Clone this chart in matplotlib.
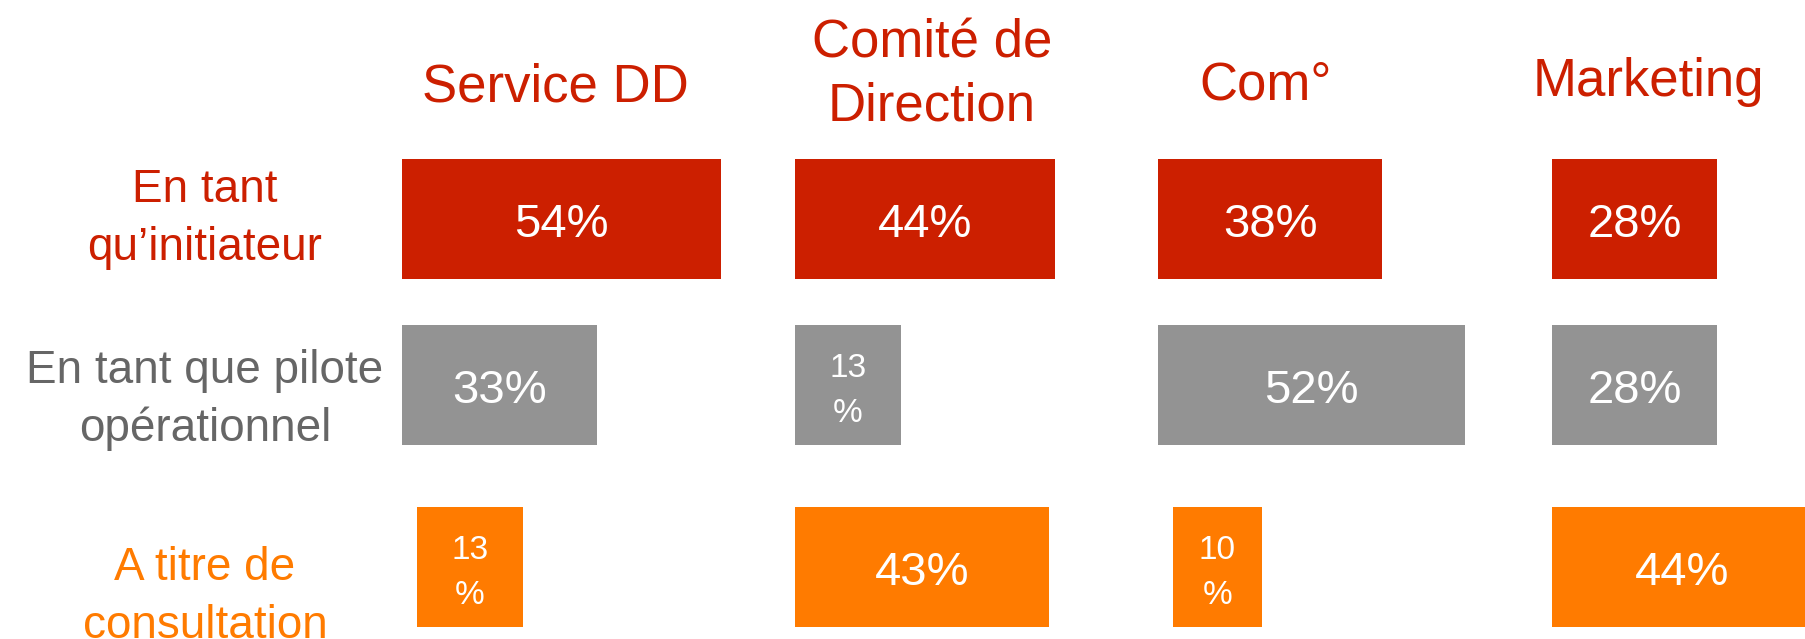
import matplotlib as mpl
from matplotlib import pyplot as plt

# donnees
categories = ['Service DD', 'Comité de\nDirection', 'Com°', 'Marketing']
roles = ["En tant\nqu\u2019initiateur", 'En tant que pilote\nopérationnel', 'A titre de\nconsultation']
initiateur = [54, 44, 38, 28]
pilote = [33, 13, 52, 28]
consultation = [13, 43, 10, 44]

# mise en page (pixels)
W, H = 1805, 639
col_left = [402, 795, 1158, 1552]
head_x = [555, 932, 1266, 1648]
head_y = [88, 75, 85, 82]
row_y = [219, 385, 567]
label_y = [219, 400, 597]
bar_h = 120
px_per_pct = 5.9
narrow_limit = 16
narrow_pad = 5
narrow_shift = [0, 0, 15]  # decalage des petites barres orange

red = '#CC1F00'
grey = '#939393'
orange = '#FF7B00'
row_colors = [red, grey, orange]
label_colors = [red, '#666666', orange]

mpl.rcParams['font.family'] = ['Liberation Sans', 'DejaVu Sans']

fig = plt.figure(figsize=(W / 100, H / 100), dpi=100)
ax = fig.add_axes([0, 0, 1, 1])
ax.set_xlim(0, W)
ax.set_ylim(H, 0)
ax.axis('off')

# en-tetes
for i, cat in enumerate(categories):
    ax.text(head_x[i], head_y[i], cat, color=red, fontsize=38, ha='center', va='center',
            linespacing=1.35)

# libelles de lignes
for j, role in enumerate(roles):
    ax.text(205, label_y[j], role, color=label_colors[j], fontsize=33, ha='center', va='center',
            linespacing=1.42)

# barres
for j, series in enumerate([initiateur, pilote, consultation]):
    for i, v in enumerate(series):
        narrow = v < narrow_limit
        w = (v + narrow_pad if narrow else v) * px_per_pct
        left = col_left[i] + (narrow_shift[j] if narrow else 0)
        ax.barh(row_y[j], w, left=left, height=bar_h, color=row_colors[j], linewidth=0)
        cx = left + w / 2
        if narrow:
            ax.text(cx, row_y[j] + 6, '%d\n%%' % v, color='white', fontsize=24, ha='center',
                    va='center', linespacing=1.55)
        else:
            ax.text(cx, row_y[j] + 6, '%d%%' % v, color='white', fontsize=34, ha='center',
                    va='center')

plt.savefig('out.png', dpi=100)
